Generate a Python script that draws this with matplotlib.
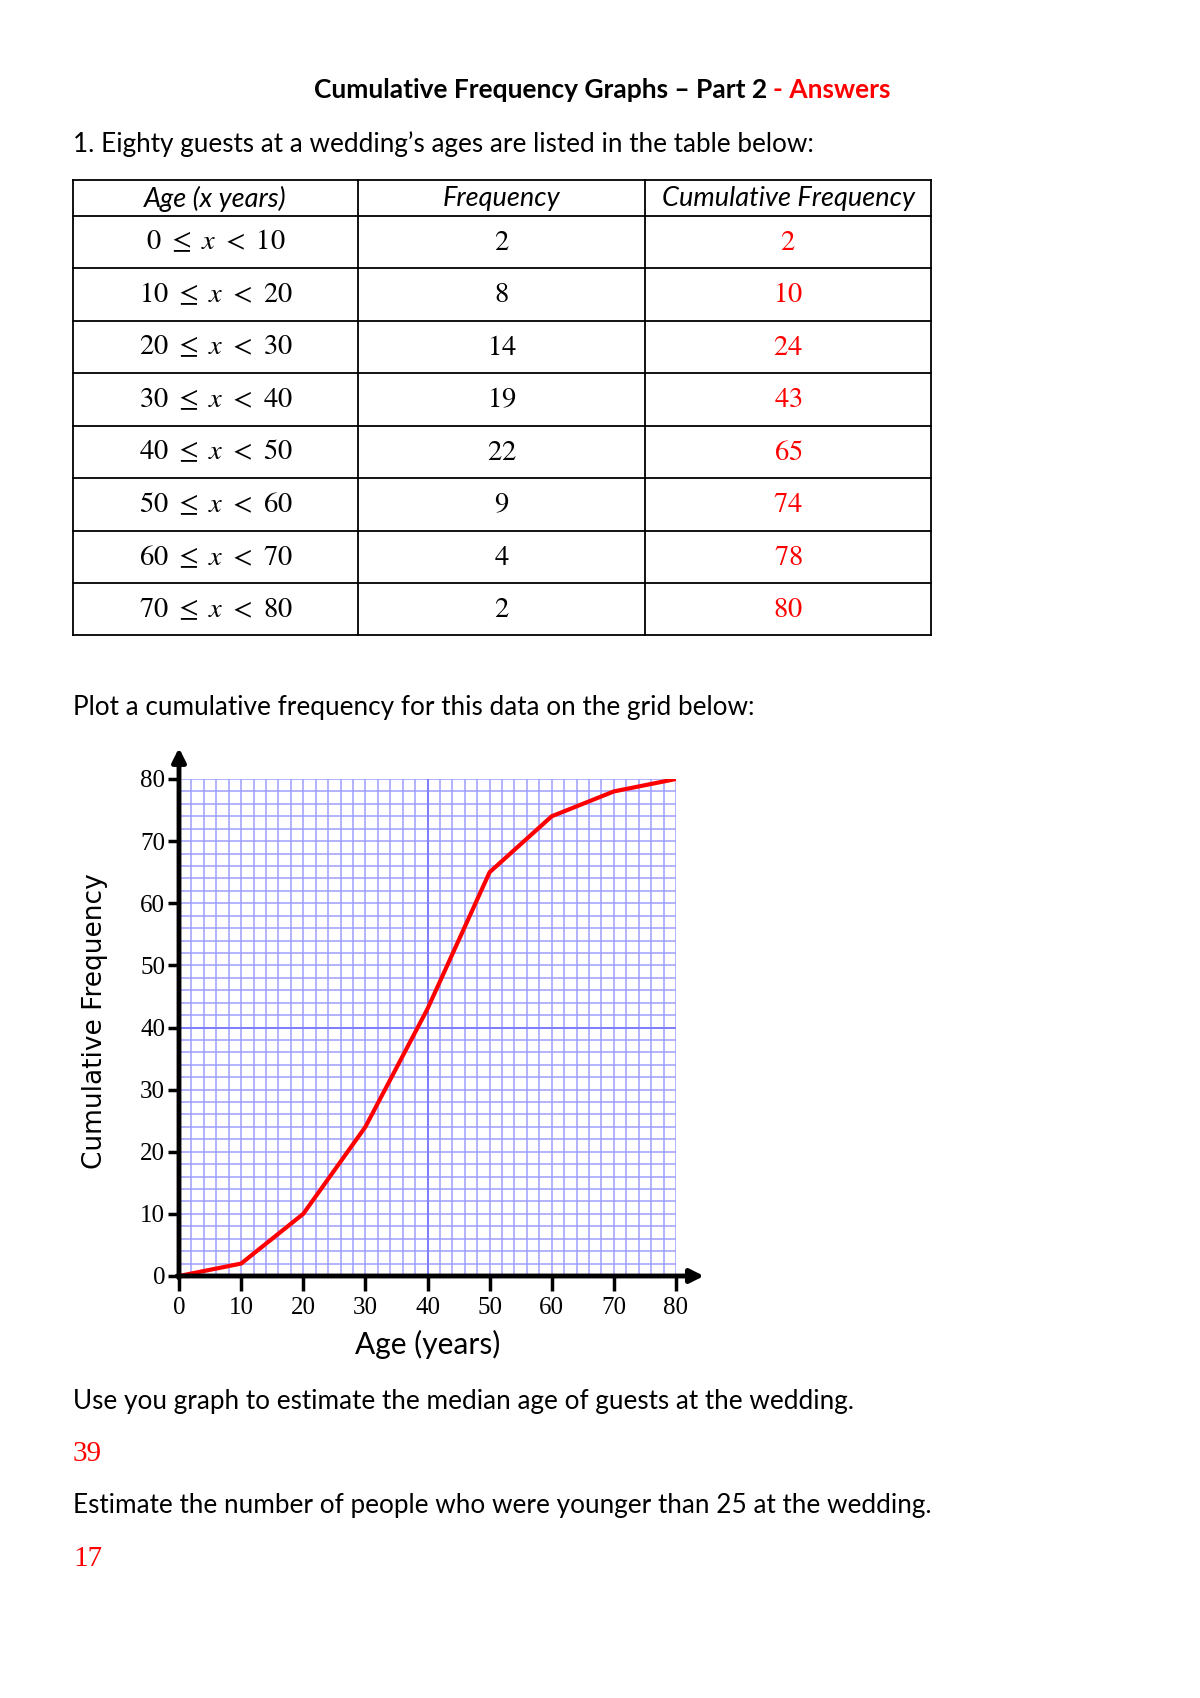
import matplotlib
matplotlib.use('Agg')
import matplotlib.pyplot as plt
from matplotlib.ticker import MultipleLocator

plt.rcParams['mathtext.fontset'] = 'stix'

# table data
age_lo = [0, 10, 20, 30, 40, 50, 60, 70]
age_hi = [10, 20, 30, 40, 50, 60, 70, 80]
freq = [2, 8, 14, 19, 22, 9, 4, 2]
cum_freq = [2, 10, 24, 43, 65, 74, 78, 80]

# plotted curve
curve_x = [0, 10, 20, 30, 40, 50, 60, 70, 80]
curve_y = [0, 2, 10, 24, 43, 65, 74, 78, 80]

headers = ['Age (x years)', 'Frequency', 'Cumulative Frequency']
body = 'Lato'

W, H = 1200, 1698
fig = plt.figure(figsize=(W / 100, H / 100), dpi=100)

# page axes in pixel coordinates
pg = fig.add_axes([0, 0, 1, 1])
pg.set_xlim(0, W)
pg.set_ylim(H, 0)
pg.axis('off')

pg.text(767, 90, 'Cumulative Frequency Graphs \u2013 Part 2', ha='right', va='center',
        fontsize=19, fontweight='bold', family=body)
pg.text(773, 90, '- Answers', ha='left', va='center', color='red',
        fontsize=19, fontweight='bold', family=body)
pg.text(73, 144, '1. Eighty guests at a wedding\u2019s ages are listed in the table below:',
        ha='left', va='center', fontsize=18.8, family=body)

# table
col_x = [73, 358, 645, 931]
row_y = [180, 215.5, 267.5, 320.5, 372.5, 425.6, 477.6, 530.7, 582.7, 634.6]
for yy in row_y:
    pg.plot([col_x[0], col_x[-1]], [yy, yy], color='black', lw=1.3)
for xx in col_x:
    pg.plot([xx, xx], [row_y[0], row_y[-1]], color='black', lw=1.3)

for i, h in enumerate(headers):
    cx = (col_x[i] + col_x[i + 1]) / 2
    pg.text(cx, (row_y[0] + row_y[1]) / 2 + 1, h, ha='center', va='center',
            fontsize=19.5, style='italic', family=body)

for r in range(len(freq)):
    cy = (row_y[r + 1] + row_y[r + 2]) / 2
    pg.text((col_x[0] + col_x[1]) / 2, cy,
            r'$%d\ \leq\ x\ <\ %d$' % (age_lo[r], age_hi[r]),
            ha='center', va='center', fontsize=20.5)
    pg.text((col_x[1] + col_x[2]) / 2, cy, r'$%d$' % freq[r],
            ha='center', va='center', fontsize=20.5)
    pg.text((col_x[2] + col_x[3]) / 2, cy, r'$%d$' % cum_freq[r],
            ha='center', va='center', fontsize=20.5, color='red')

pg.text(73, 707, 'Plot a cumulative frequency for this data on the grid below:',
        ha='left', va='center', fontsize=18.8, family=body)
pg.text(95, 1021, 'Cumulative Frequency', rotation=90, ha='center', va='center',
        fontsize=19, family='DejaVu Sans')
pg.text(428, 1344, 'Age (years)', ha='center', va='center', fontsize=21.5, family=body)
pg.text(73, 1401, 'Use you graph to estimate the median age of guests at the wedding.',
        ha='left', va='center', fontsize=18.8, family=body)
pg.text(73, 1454, '39', ha='left', va='center', fontsize=21, color='red',
        family='Liberation Serif')
pg.text(73, 1506, 'Estimate the number of people who were younger than 25 at the wedding.',
        ha='left', va='center', fontsize=18.8, family=body)
pg.text(73, 1559, '17', ha='left', va='center', fontsize=21, color='red',
        family='Liberation Serif')

# graph
x0, x1, y0, y1 = 179, 676, 1276, 779
ax = fig.add_axes([x0 / W, 1 - y0 / H, (x1 - x0) / W, (y0 - y1) / H])
ax.set_xlim(0, 80)
ax.set_ylim(0, 80)
for s in ax.spines.values():
    s.set_visible(False)

ax.xaxis.set_minor_locator(MultipleLocator(2))
ax.yaxis.set_minor_locator(MultipleLocator(2))
ax.xaxis.set_major_locator(MultipleLocator(10))
ax.yaxis.set_major_locator(MultipleLocator(10))
ax.grid(which='both', color='#9d9dff', lw=1.2, alpha=0.9)
ax.axvline(40, color='#7d7dff', lw=1.4)
ax.axhline(40, color='#7d7dff', lw=1.4)
ax.set_axisbelow(True)

ax.tick_params(which='minor', length=0)
ax.tick_params(which='major', direction='out', width=2.5, color='black')
ax.tick_params(axis='y', length=8, pad=2, labelsize=18)
ax.tick_params(axis='x', length=11, pad=4, labelsize=18)
for lab in ax.get_xticklabels() + ax.get_yticklabels():
    lab.set_family('Liberation Serif')

ax.plot(curve_x, curve_y, color='#ff0000', lw=3, solid_joinstyle='round', zorder=3)

# axes with arrow heads
ax.annotate('', xy=(0, 85), xytext=(0, -0.3), annotation_clip=False,
            arrowprops=dict(arrowstyle='-|>', color='black', lw=3.5,
                            mutation_scale=20, shrinkA=0, shrinkB=0))
ax.annotate('', xy=(84.5, 0), xytext=(-0.3, 0), annotation_clip=False,
            arrowprops=dict(arrowstyle='-|>', color='black', lw=3.5,
                            mutation_scale=20, shrinkA=0, shrinkB=0))

fig.savefig('out.png', dpi=100)
